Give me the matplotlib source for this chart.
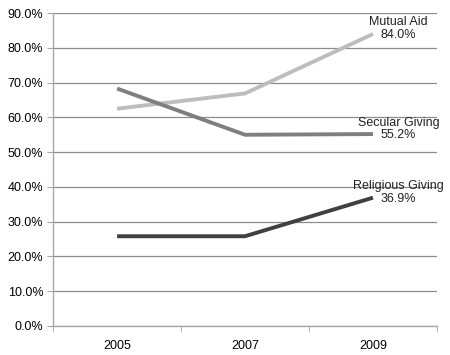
import matplotlib.pyplot as plt
from matplotlib.ticker import FuncFormatter, MultipleLocator

years = ["2005", "2007", "2009"]
mutual_aid = [62.5, 66.9, 84.0]
secular_giving = [68.3, 55.0, 55.2]
religious_giving = [25.8, 25.8, 36.9]

series = [
    ("Mutual Aid", mutual_aid, "#bdbdbd"),
    ("Secular Giving", secular_giving, "#7f7f7f"),
    ("Religious Giving", religious_giving, "#404040"),
]

plt.rcParams["font.family"] = ["Liberation Sans", "DejaVu Sans"]

fig = plt.figure(figsize=(4.5, 3.55), dpi=100)
ax = fig.add_axes([0.118, 0.082, 0.853, 0.881])

x = list(range(len(years)))
for name, vals, color in series:
    ax.plot(x, vals, color=color, linewidth=2.8, solid_capstyle="butt", zorder=3)
    ax.text(x[-1] + 0.2, vals[-1] - 2.0, f"{name}\n{vals[-1]:.1f}%",
            ha="center", va="bottom", fontsize=9, color="#222222",
            linespacing=1.05, zorder=4)

ax.set_xlim(-0.5, 2.5)
ax.set_ylim(0, 90)
ax.yaxis.set_major_locator(MultipleLocator(10))
ax.yaxis.set_major_formatter(FuncFormatter(lambda v, p: f"{v:.1f}%"))
ax.set_xticks(x)
ax.set_xticklabels(years)
ax.set_xticks([-0.5, 0.5, 1.5, 2.5], minor=True)

ax.grid(True, axis="y", color="#8c8c8c", linewidth=0.9, zorder=0)
for s in ["top", "right"]:
    ax.spines[s].set_visible(False)
for s in ["left", "bottom"]:
    ax.spines[s].set_color("#a6a6a6")
    ax.spines[s].set_linewidth(1.0)

ax.tick_params(axis="y", length=4, color="#a6a6a6", labelsize=9, pad=3)
ax.tick_params(axis="x", which="major", length=0, labelsize=9, pad=10)
ax.tick_params(axis="x", which="minor", length=4, color="#a6a6a6")

fig.savefig("out.png", dpi=100)
